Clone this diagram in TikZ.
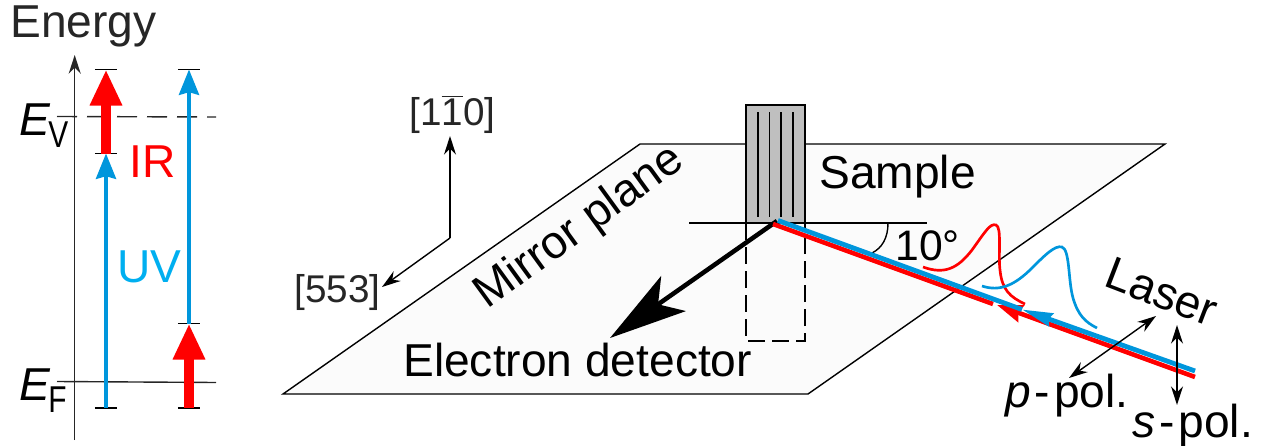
\documentclass[tikz,border=0pt]{standalone}
\usepackage{fontspec}
\setmainfont{Liberation Sans}
\usetikzlibrary{arrows.meta}
\definecolor{uvblue}{RGB}{0,150,220}
\definecolor{uvtext}{RGB}{0,175,240}
\definecolor{planefill}{RGB}{251,251,251}
\tikzset{
  lbl/.style={inner sep=0pt,anchor=base west,font=\fontsize{34.6}{38}\selectfont},
  smalllbl/.style={lbl,font=\fontsize{29}{32}\selectfont},
  thinline/.style={line width=1.05pt},
  redpump/.style={draw=red,line width=7pt,-{Triangle[length=27pt,width=22.5pt]}},
  uvprobe/.style={draw=uvblue,line width=3pt,-{Stealth[inset=2pt,length=19pt,width=15pt]}},
  tickmark/.style={line width=1.3pt},
  polarrow/.style={thinline,{Stealth[length=14pt,width=9pt]}-{Stealth[length=14pt,width=9pt]}},
  axisarrow/.style={thinline,-{Stealth[length=14pt,width=9pt]}}
}
\newcommand{\levelE}[1]{\textit{E}\kern-1.5pt\raisebox{-9pt}{\scalebox{0.8}[1]{\fontsize{28}{30}\selectfont #1}}}
\begin{document}
\begin{tikzpicture}[x=0.75pt,y=-0.75pt]
\useasboundingbox (0,0) rectangle (1267,446);
% energy scheme
\node[lbl,text=black!85] (energy) at (10,37) {Energy};
\coordinate (axisbot) at (74.7,440);
\coordinate (axistop) at (74.7,55);
\draw[axisarrow,black!85] (axisbot) -- (axistop);
\coordinate (vacl) at (57,116.5);
\coordinate (vacr) at (216,117);
\coordinate (ferl) at (57,381.5);
\coordinate (ferr) at (216,382.5);
\draw[thinline,dash pattern=on 15pt off 7.5pt,black!85] (vacl) -- (vacr);
\draw[thinline,black!85] (ferl) -- (ferr);
\node[lbl] (ev) at (19,135) {\levelE{V}};
\node[lbl] (ef) at (19,400) {\levelE{F}};
\foreach \tickname/\tickx/\ticky in {a/106/69.5,b/106/153.5,c/106/408,d/189/69.5,e/189/323.5,f/189/408}{
  \coordinate (tick\tickname) at (\tickx,\ticky);
  \draw[tickmark] ([xshift=-8.3pt]tick\tickname) -- ([xshift=8.3pt]tick\tickname);
}
\draw[redpump] (tickb) -- (ticka);
\draw[uvprobe] (tickc) -- (tickb);
\draw[uvprobe] (ticke) -- (tickd);
\draw[redpump] (tickf) -- (ticke);
\node[lbl,text=red] (ir) at (129,177) {IR};
\node[lbl,text=uvtext] (uv) at (117,282) {UV};
% crystal directions
\coordinate (origin) at (450,238);
\coordinate (uptip) at (450,136);
\coordinate (downtip) at (382,287);
\draw[axisarrow] (origin) -- (uptip);
\draw[axisarrow] (origin) -- (downtip);
\node[smalllbl,text=black!85] (dirup) at (409,125) {[1$\overline{\mbox{1}}$0]};
\node[smalllbl,text=black!85] (dirdown) at (294,302) {[553]};
% mirror plane and sample
\coordinate (pa) at (283,394);
\coordinate (pb) at (640,144);
\coordinate (pc) at (1165,144);
\coordinate (pd) at (808,394);
\draw[thinline,fill=planefill] (pa) -- (pb) -- (pc) -- (pd) -- cycle;
\coordinate (sa) at (746,105);
\coordinate (sb) at (805,223);
\draw[thinline,fill=black!25] (sa) rectangle (sb);
\foreach \groovex in {758,769.5,781,793}
  \draw[thinline] (\groovex,112) -- (\groovex,217);
\draw[thinline,dash pattern=on 12.5pt off 5.5pt] (746,223) -- (746,341) -- (805,341) -- (805,223);
\coordinate (hitl) at (689,223);
\coordinate (hitr) at (927,223);
\draw[thinline] (hitl) -- (hitr);
\node[lbl] (sample) at (819,188) {Sample};
\node[lbl,rotate=36,anchor=center] (mirror) at (580,228) {Mirror plane};
\node[lbl] (detector) at (403,376) {Electron detector};
\node[lbl,font=\fontsize{32}{34}\selectfont] (angle) at (895,260) {10°};
\coordinate (hit) at (777,221);
\coordinate (arcstart) at (888,223);
\coordinate (arcend) at (872,253);
\draw[thinline] (arcstart) .. controls (888,238) and (882,248) .. (arcend);
\coordinate (dettip) at (610,338);
\draw[line width=3.4pt,-{Stealth[inset=14pt,length=58pt,width=32pt]}] (hit) -- (dettip);
% laser beams
\coordinate (redstart) at (1195,377);
\coordinate (redtip) at (997,305);
\coordinate (redgap) at (993,304);
\coordinate (redend) at (773,224);
\coordinate (bluestart) at (1195,371);
\coordinate (bluetip) at (1022,309.5);
\coordinate (blueend) at (778,220.5);
\draw[draw=red,line width=3.4pt,-{Stealth[inset=2pt,length=19pt,width=13pt]}] (redstart) -- (redtip);
\draw[draw=red,line width=3.4pt] (redgap) -- (redend);
\draw[draw=uvblue,line width=3.6pt,-{Stealth[inset=2pt,length=23pt,width=10pt]}] (bluestart) -- (bluetip);
\draw[draw=uvblue,line width=3.6pt] (bluetip) -- (blueend);
% pulses
\draw[red,line width=2pt] (923,267) .. controls (945,275) and (958,268) .. (972,250) .. controls (985,232) and (990,223) .. (996,225) .. controls (1002,227) and (998,255) .. (1000,270) .. controls (1002,290) and (1010,297) .. (1025,304);
\draw[uvblue,line width=2pt] (982,286) .. controls (1000,292) and (1015,285) .. (1032,268) .. controls (1045,255) and (1055,245) .. (1062,247) .. controls (1070,250) and (1068,280) .. (1073,298) .. controls (1078,315) and (1085,322) .. (1097,328);
% polarisation
\coordinate (pup) at (1156,316);
\coordinate (pdown) at (1069,378);
\coordinate (sup) at (1177,325);
\coordinate (sdown) at (1177,405);
\draw[polarrow] (pup) -- (pdown);
\draw[polarrow] (sup) -- (sdown);
\node[lbl,rotate=-21,anchor=center] (laser) at (1162,292) {Laser};
\node[lbl] (ppol) at (1005,407) {\textit{p}\kern3pt-\kern3pt pol.};
\node[lbl] (spol) at (1132,437) {\textit{s}\kern3pt-\kern3pt pol.};
\end{tikzpicture}
\end{document}
